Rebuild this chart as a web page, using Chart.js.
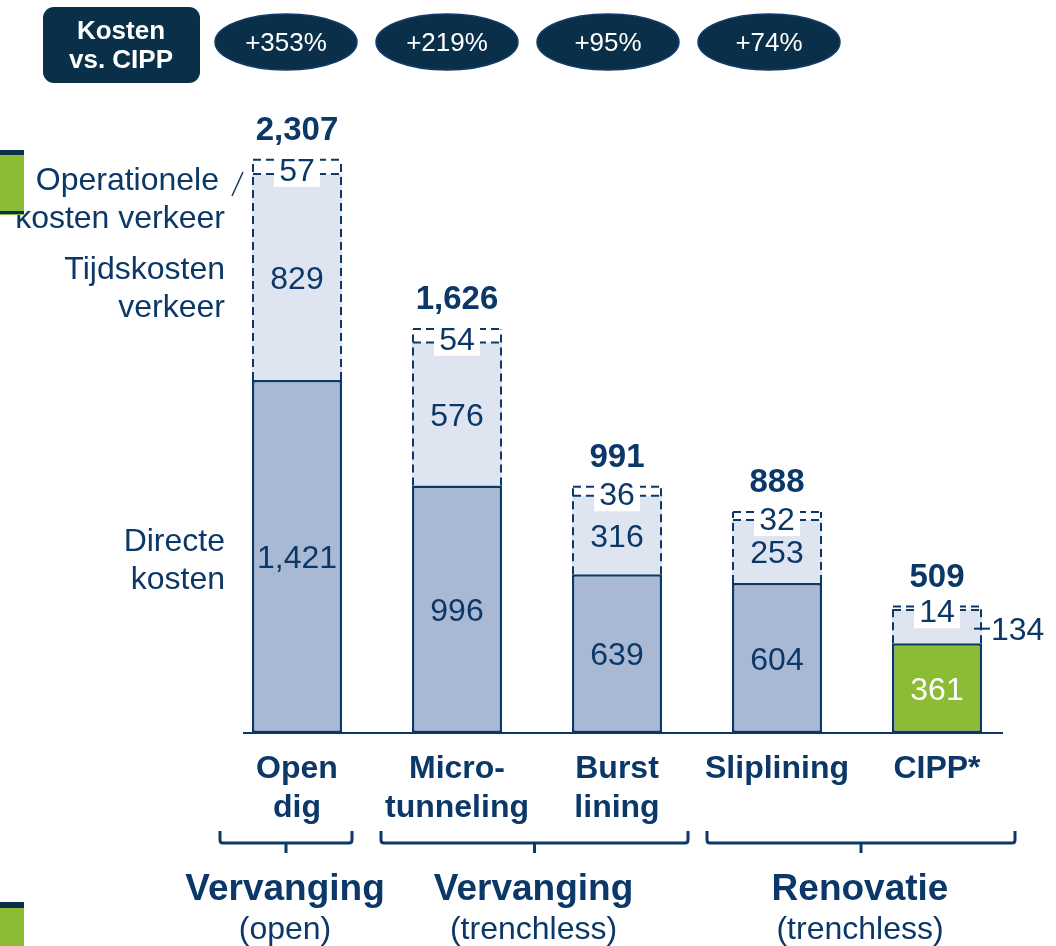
<!DOCTYPE html>
<html>
<head>
<meta charset="utf-8">
<script src="https://cdn.jsdelivr.net/npm/chart.js@4"></script>
<style>
  html, body { margin: 0; padding: 0; background: #fff; }
  canvas { display: block; }
</style>
</head>
<body>
<canvas id="chart" width="1056" height="946"></canvas>
<script>
const categories = [["Open", "dig"], ["Micro-", "tunneling"], ["Burst", "lining"], ["Sliplining"], ["CIPP*"]];
const directCosts = [1421, 996, 639, 604, 361];
const timeCosts = [829, 576, 316, 253, 134];
const operationalCosts = [57, 54, 36, 32, 14];
const totals = ["2,307", "1,626", "991", "888", "509"];
const directLabels = ["1,421", "996", "639", "604", "361"];
const costVsCipp = ["+353%", "+219%", "+95%", "+74%"];
const groupTitles = ["Vervanging", "Vervanging", "Renovatie"];
const groupSubtitles = ["(open)", "(trenchless)", "(trenchless)"];
const seriesNames = [["Directe", "kosten"], ["Tijdskosten", "verkeer"], ["Operationele", "kosten verkeer"]];

const NAVY = "#0b3868";
const DARK = "#0a3049";
const GREEN = "#8cbb35";
const FONT = "'Liberation Sans', Arial, sans-serif";

// brace extents in pixels (layout only)
const braces = [[220, 352], [381, 688], [707, 1015]];
const pillCenters = [286, 447, 608, 769];

function txt(ctx, s, x, y, size, bold, color, align) {
    ctx.font = (bold ? "bold " : "") + size + "px " + FONT;
    ctx.fillStyle = color || NAVY;
    ctx.textAlign = align || "center";
    ctx.textBaseline = "middle";
    ctx.fillText(s, x, y + 3);
}

function line(ctx, x1, y1, x2, y2) {
    ctx.beginPath();
    ctx.moveTo(x1, y1);
    ctx.lineTo(x2, y2);
    ctx.stroke();
}

const decorations = {
    id: "decorations",
    afterDatasetsDraw(chart) {
        const ctx = chart.ctx;
        const direct = chart.getDatasetMeta(0).data;
        const time = chart.getDatasetMeta(1).data;
        const op = chart.getDatasetMeta(2).data;
        ctx.save();

        // baseline
        ctx.strokeStyle = NAVY;
        ctx.lineWidth = 2;
        line(ctx, 243, chart.chartArea.bottom, 1003, chart.chartArea.bottom);

        direct.forEach((bar, i) => {
            const l = bar.x - bar.width / 2 + 1, r = bar.x + bar.width / 2 - 1;
            const top = op[i].y, mid = op[i].base, bottom = bar.y;

            // dashed outline around the traffic cost part
            ctx.strokeStyle = NAVY;
            ctx.lineWidth = 2;
            ctx.setLineDash([8, 5]);
            line(ctx, l, bottom, l, top);
            line(ctx, r, bottom, r, top);
            line(ctx, l, top, r, top);
            line(ctx, l, mid, r, mid);
            ctx.setLineDash([]);

            // direct label
            txt(ctx, directLabels[i], bar.x, (bar.y + bar.base) / 2, 32, false, i === 4 ? "#fff" : NAVY);

            // time label
            if (i === 4) {
                const ty = (time[i].y + time[i].base) / 2 + 2;
                line(ctx, r - 7, ty, r + 9, ty);
                txt(ctx, String(timeCosts[i]), r + 10, ty, 32, false, NAVY, "left");
            } else {
                txt(ctx, String(timeCosts[i]), bar.x, (time[i].y + time[i].base) / 2, 32, false);
            }

            // operational label on white box
            const oy = (top + mid) / 2 + 2;
            ctx.fillStyle = "#fff";
            ctx.fillRect(bar.x - 23, oy - 17, 46, 35);
            txt(ctx, String(operationalCosts[i]), bar.x, oy, 32, false);

            // total
            txt(ctx, totals[i], bar.x, top - 32, 33, true);

            // category label
            categories[i].forEach((s, k) => txt(ctx, s, bar.x, 766 + k * 39, 32, true));
        });

        // series labels on the left
        const b0 = direct[0];
        seriesNames[0].forEach((s, k) => txt(ctx, s, 225, (b0.y + b0.base) / 2 - 17 + k * 38, 32, false, NAVY, "right"));
        seriesNames[1].forEach((s, k) => txt(ctx, s, 225, (time[0].y + time[0].base) / 2 - 10 + k * 38, 32, false, NAVY, "right"));
        seriesNames[2].forEach((s, k) => txt(ctx, s, 219 + k * 6, 178 + k * 38, 32, false, NAVY, "right"));
        ctx.strokeStyle = NAVY;
        ctx.lineWidth = 1.5;
        line(ctx, 232, 196, 243, 172);

        // braces and group labels
        ctx.strokeStyle = NAVY;
        ctx.lineWidth = 3;
        ctx.lineJoin = "round";
        braces.forEach(([a, b], g) => {
            const c = (a + b) / 2;
            ctx.beginPath();
            ctx.moveTo(a, 831);
            ctx.lineTo(a, 840);
            ctx.quadraticCurveTo(a, 843, a + 3, 843);
            ctx.lineTo(b - 3, 843);
            ctx.quadraticCurveTo(b, 843, b, 840);
            ctx.lineTo(b, 831);
            ctx.moveTo(c, 843);
            ctx.lineTo(c, 853);
            ctx.stroke();
            txt(ctx, groupTitles[g], c - 1, 887, 37, true);
            txt(ctx, groupSubtitles[g], c - 1, 927, 32, false);
        });

        // header: cost vs CIPP
        ctx.fillStyle = DARK;
        ctx.beginPath();
        ctx.roundRect(43, 7, 157, 76, 11);
        ctx.fill();
        txt(ctx, "Kosten", 121, 29, 26, true, "#fff");
        txt(ctx, "vs. CIPP", 121, 58, 26, true, "#fff");
        costVsCipp.forEach((s, k) => {
            ctx.fillStyle = DARK;
            ctx.strokeStyle = "#123a6b";
            ctx.lineWidth = 1.5;
            ctx.beginPath();
            ctx.ellipse(pillCenters[k], 42, 71, 28, 0, 0, Math.PI * 2);
            ctx.fill();
            ctx.stroke();
            txt(ctx, s, pillCenters[k], 41, 26, false, "#fff");
        });

        // cropped legend swatches at the left edge
        ctx.fillStyle = GREEN;
        ctx.fillRect(0, 150, 24, 65);
        ctx.fillStyle = DARK;
        ctx.fillRect(0, 150, 24, 5);
        ctx.fillRect(0, 211, 24, 3);
        ctx.fillStyle = GREEN;
        ctx.fillRect(0, 902, 24, 44);
        ctx.fillStyle = DARK;
        ctx.fillRect(0, 902, 24, 6);

        ctx.restore();
    }
};

new Chart(document.getElementById("chart"), {
    type: "bar",
    data: {
        labels: categories,
        datasets: [
            {
                label: "Directe kosten",
                data: directCosts,
                backgroundColor: directCosts.map((v, i) => (i === 4 ? GREEN : "#a9b9d3")),
                borderColor: NAVY,
                borderWidth: 2.5,
                borderSkipped: false,
            },
            {
                label: "Tijdskosten verkeer",
                data: timeCosts,
                backgroundColor: "#dfe5f0",
                borderWidth: 0,
            },
            {
                label: "Operationele kosten verkeer",
                data: operationalCosts,
                backgroundColor: "#ffffff",
                borderWidth: 0,
            },
        ],
    },
    options: {
        responsive: false,
        animation: false,
        events: [],
        layout: {
            padding: { left: 217, right: 39, top: 87, bottom: 213 },
        },
        datasets: {
            bar: {
                categoryPercentage: 1,
                barPercentage: 0.5625,
            },
        },
        scales: {
            x: { stacked: true, display: false },
            y: { stacked: true, display: false, min: 0, max: 2600 },
        },
        plugins: {
            legend: { display: false },
            tooltip: { enabled: false },
        },
    },
    plugins: [decorations],
});
</script>
</body>
</html>
